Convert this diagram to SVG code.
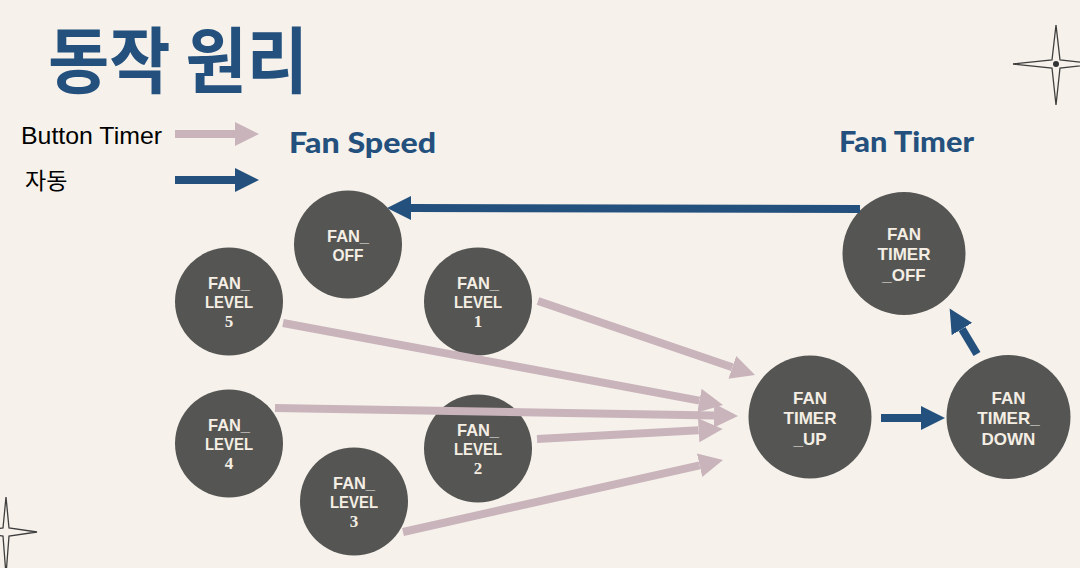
<svg xmlns="http://www.w3.org/2000/svg" width="1080" height="568" viewBox="0 0 1080 568">
<style>
.bg{fill:#F6F2EB}
.node circle{fill:#555553}
.lv{font-family:"Liberation Sans",Arial,sans-serif;font-weight:bold;font-size:16.5px;fill:#F4EEE4;text-anchor:middle}
.dg{font-family:"Liberation Serif","DejaVu Serif",serif;font-weight:bold;font-size:17px;fill:#F4EEE4;text-anchor:middle}
.tm{font-family:"Liberation Sans",Arial,sans-serif;font-weight:bold;font-size:17px;fill:#F4EEE4;text-anchor:middle}
.pk{stroke:#C9B4BC;stroke-width:8;fill:none}
.bl{stroke:#24507D;stroke-width:8;fill:none}
.hd{font-family:"Lato","Liberation Sans",sans-serif;font-weight:900;font-size:28px;fill:#24507D}
.star{fill:#F6F2EB;stroke:#3E3E3E;stroke-width:1.3}
</style>
<defs>
<marker id="ahp" markerUnits="userSpaceOnUse" markerWidth="24" markerHeight="24" refX="0" refY="12" orient="auto" viewBox="0 0 24 24"><path d="M0,0 L24,12 L0,24 z" fill="#C9B4BC"/></marker>
<marker id="ahb" markerUnits="userSpaceOnUse" markerWidth="24" markerHeight="24" refX="0" refY="12" orient="auto" viewBox="0 0 24 24"><path d="M0,0 L24,12 L0,24 z" fill="#24507D"/></marker>
</defs>
<rect class="bg" x="0" y="0" width="1080" height="568"/>

<g id="decor">
<path class="star" d="M1056,25 L1060,60 L1099,64 L1060,68 L1056,105 L1052,68 L1013,64 L1052,60 Z"/>
<circle cx="1056" cy="64" r="3" fill="#333"/>
<path class="star" d="M6,497 L9,528 L37,532 L9,536 L6,575 L3,536 L-30,532 L3,528 Z"/>
</g>

<g id="title">
<text x="48" y="87" font-family="'Noto Sans CJK KR',sans-serif" font-weight="bold" font-size="72" fill="#24507D" textLength="260" lengthAdjust="spacingAndGlyphs">동작 원리</text>
</g>

<g id="legend">
<text x="21" y="144" font-family="'Liberation Sans',Arial,sans-serif" font-size="24" fill="#000" textLength="141" lengthAdjust="spacingAndGlyphs">Button Timer</text>
<text x="25" y="189" font-family="'Noto Sans CJK KR',sans-serif" font-size="23" fill="#000">자동</text>
<line class="pk" x1="175" y1="134" x2="235" y2="134" marker-end="url(#ahp)"/>
<line class="bl" x1="175" y1="180" x2="235" y2="180" marker-end="url(#ahb)"/>
</g>

<g id="headings">
<text class="hd" x="289" y="153" textLength="147" lengthAdjust="spacingAndGlyphs">Fan Speed</text>
<text class="hd" x="839" y="152" textLength="135" lengthAdjust="spacingAndGlyphs">Fan Timer</text>
</g>

<g id="fan_off" class="node"><circle cx="348" cy="244.5" r="54"/><text class="lv" x="348" y="242" textLength="42" lengthAdjust="spacingAndGlyphs">FAN_</text><text class="lv" x="348" y="261" textLength="31" lengthAdjust="spacingAndGlyphs">OFF</text></g>
<g id="fan_level5" class="node"><circle cx="229" cy="301.5" r="54"/><text class="lv" x="229" y="289" textLength="42" lengthAdjust="spacingAndGlyphs">FAN_</text><text class="lv" x="229" y="308" textLength="48" lengthAdjust="spacingAndGlyphs">LEVEL</text><text class="dg" x="229" y="327">5</text></g>
<g id="fan_level1" class="node"><circle cx="478" cy="301.5" r="54"/><text class="lv" x="478" y="289" textLength="42" lengthAdjust="spacingAndGlyphs">FAN_</text><text class="lv" x="478" y="308" textLength="48" lengthAdjust="spacingAndGlyphs">LEVEL</text><text class="dg" x="478" y="327">1</text></g>
<g id="fan_level4" class="node"><circle cx="229" cy="443.5" r="54"/><text class="lv" x="229" y="431" textLength="42" lengthAdjust="spacingAndGlyphs">FAN_</text><text class="lv" x="229" y="450" textLength="48" lengthAdjust="spacingAndGlyphs">LEVEL</text><text class="dg" x="229" y="469">4</text></g>
<g id="fan_level2" class="node"><circle cx="478" cy="448.5" r="54"/><text class="lv" x="478" y="436" textLength="42" lengthAdjust="spacingAndGlyphs">FAN_</text><text class="lv" x="478" y="455" textLength="48" lengthAdjust="spacingAndGlyphs">LEVEL</text><text class="dg" x="478" y="474">2</text></g>
<g id="fan_level3" class="node"><circle cx="354" cy="501.5" r="54"/><text class="lv" x="354" y="489" textLength="42" lengthAdjust="spacingAndGlyphs">FAN_</text><text class="lv" x="354" y="508" textLength="48" lengthAdjust="spacingAndGlyphs">LEVEL</text><text class="dg" x="354" y="527">3</text></g>
<g id="fan_timer_off" class="node"><circle cx="904" cy="253.5" r="61.5"/><text class="tm" x="904" y="239.5">FAN</text><text class="tm" x="904" y="260">TIMER</text><text class="tm" x="904" y="281">_OFF</text></g>
<g id="fan_timer_up" class="node"><circle cx="810" cy="417" r="61.5"/><text class="tm" x="810" y="403.5">FAN</text><text class="tm" x="810" y="424">TIMER</text><text class="tm" x="810" y="445">_UP</text></g>
<g id="fan_timer_down" class="node"><circle cx="1008.5" cy="417" r="62"/><text class="tm" x="1008.5" y="403.5">FAN</text><text class="tm" x="1008.5" y="424">TIMER_</text><text class="tm" x="1008.5" y="445">DOWN</text></g>

<g id="connectors">
<line class="pk" x1="538" y1="301" x2="732.3" y2="367.3" marker-end="url(#ahp)"/>
<line class="pk" x1="283" y1="323" x2="699.4" y2="400.6" marker-end="url(#ahp)"/>
<line class="pk" x1="275" y1="408" x2="714" y2="415.6" marker-end="url(#ahp)"/>
<line class="pk" x1="537" y1="439" x2="698.7" y2="430.3" marker-end="url(#ahp)"/>
<line class="pk" x1="403" y1="532" x2="699.6" y2="465.3" marker-end="url(#ahp)"/>
<line class="bl" x1="860" y1="209" x2="411" y2="208" marker-end="url(#ahb)"/>
<line class="bl" x1="881" y1="418" x2="921" y2="418" marker-end="url(#ahb)"/>
<line class="bl" x1="977" y1="354" x2="962" y2="329" marker-end="url(#ahb)"/>
</g>
</svg>
